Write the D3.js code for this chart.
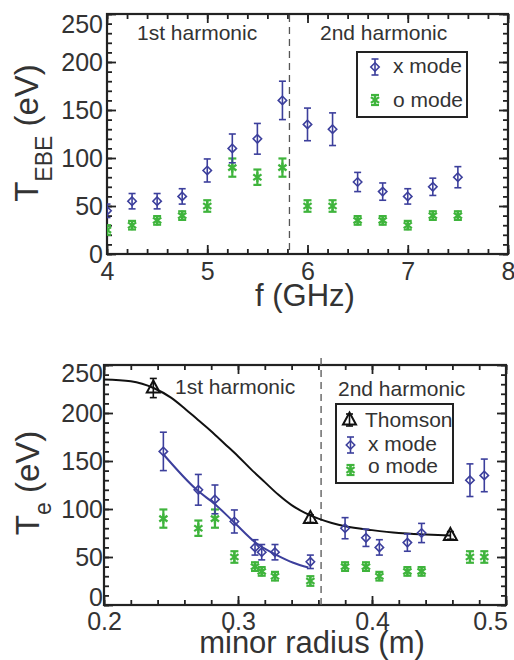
<!DOCTYPE html>
<html><head><meta charset="utf-8">
<script src="https://cdn.jsdelivr.net/npm/d3@7"></script>
<style>
body{margin:0;background:#fff;}
svg{display:block;}
text{font-family:"Liberation Sans",Arial,Helvetica,sans-serif;fill:#333;}
</style></head>
<body>
<svg id="c" width="514" height="660"></svg>
<script>
// ---- data ----
const freq   = [4.0, 4.25, 4.5, 4.75, 5.0, 5.25, 5.5, 5.75, 6.0, 6.25, 6.5, 6.75, 7.0, 7.25, 7.5];
const radius = [0.354, 0.3276, 0.3177, 0.3127, 0.2973, 0.2828, 0.2704, 0.2443, 0.4838, 0.4731, 0.437, 0.4264, 0.4055, 0.3955, 0.3799];
const xMode  = [45, 55, 55, 60, 87, 110, 120, 160, 135, 130, 75, 65, 60, 70, 80];
const xErr   = [7, 8, 8, 8, 12, 15, 16, 20, 17, 17, 10, 9, 8, 9, 11];
const oMode  = [25, 30, 35, 40, 50, 90, 80, 90, 50, 50, 35, 35, 30, 40, 40];
const oErr   = [5, 4.5, 4.5, 4.5, 6, 9.5, 8, 9.5, 6, 6, 4.5, 4.5, 4.5, 4.5, 4.5];

const thomR   = [0.2368, 0.354, 0.4585];
const thomT   = [226, 90, 72.5];
const thomErr = [10, 4, 4];

const thomFitR = [0.2, 0.22, 0.237, 0.25, 0.26, 0.27, 0.28, 0.29, 0.30, 0.31, 0.32, 0.33, 0.34, 0.35, 0.36, 0.37, 0.38, 0.40, 0.42, 0.44, 0.4585];
const thomFitT = [235, 233, 226, 216, 205, 193, 181, 168, 155, 141, 128, 115, 104, 96, 90, 85.5, 82, 78, 75, 73.5, 72.5];

const xFitR = [0.2443, 0.2692, 0.2828, 0.2965, 0.314, 0.3289, 0.3413, 0.3525];
const xFitT = [157, 120, 105, 87, 64, 52, 44, 39];

const fTicks = [4, 5, 6, 7, 8];
const fMinor = d3.range(4, 8.001, 0.2);
const rTicks = [0.2, 0.3, 0.4, 0.5];
const rMinor = d3.range(0.2, 0.5001, 0.02);
const tTicks = [0, 50, 100, 150, 200, 250];
const tMinor = d3.range(0, 250.1, 10);

const blue = "#3c3f9c", green = "#3fb43c", dark = "#222";

const svg = d3.select("#c");

function makePanel(o){
  const g = svg.append("g");
  const x = d3.scaleLinear().domain(o.xd).range(o.xr);
  const y = d3.scaleLinear().domain([0,250]).range(o.yr);
  const [x0,x1] = o.xr, [y0,y1] = [o.yr[1], o.yr[0]];
  const cid = "clip"+o.id;
  svg.append("clipPath").attr("id",cid).append("rect")
    .attr("x",x0).attr("y",y0).attr("width",x1-x0).attr("height",y1-y0);

  const styleAx = sel => { sel.select(".domain").remove(); sel.selectAll("line").attr("stroke",dark).attr("stroke-width",1.8); };
  const styleTxt = s=>s.selectAll("text").attr("font-size",25).attr("fill","#333").attr("font-family","Liberation Sans, Arial, sans-serif");
  g.append("g").attr("transform",`translate(0,${y1})`)
    .call(d3.axisBottom(x).tickValues(o.xt).tickSizeInner(-9).tickSizeOuter(0).tickPadding(o.xpad).tickFormat(o.xfmt))
    .call(styleAx).call(styleTxt);
  g.append("g").attr("transform",`translate(0,${y1})`)
    .call(d3.axisBottom(x).tickValues(o.xm).tickSizeInner(-5).tickSizeOuter(0).tickFormat("")).call(styleAx);
  g.append("g").attr("transform",`translate(0,${y0})`)
    .call(d3.axisTop(x).tickValues(o.xt).tickSizeInner(-9).tickSizeOuter(0).tickFormat("")).call(styleAx);
  g.append("g").attr("transform",`translate(0,${y0})`)
    .call(d3.axisTop(x).tickValues(o.xm).tickSizeInner(-5).tickSizeOuter(0).tickFormat("")).call(styleAx);
  g.append("g").attr("transform",`translate(${x0},0)`)
    .call(d3.axisLeft(y).tickValues(tTicks).tickSizeInner(-9).tickSizeOuter(0).tickPadding(o.ypad))
    .call(styleAx).call(styleTxt);
  g.append("g").attr("transform",`translate(${x0},0)`)
    .call(d3.axisLeft(y).tickValues(tMinor).tickSizeInner(-5).tickSizeOuter(0).tickFormat("")).call(styleAx);
  g.append("g").attr("transform",`translate(${x1},0)`)
    .call(d3.axisRight(y).tickValues(tTicks).tickSizeInner(-9).tickSizeOuter(0).tickFormat("")).call(styleAx);
  g.append("g").attr("transform",`translate(${x1},0)`)
    .call(d3.axisRight(y).tickValues(tMinor).tickSizeInner(-5).tickSizeOuter(0).tickFormat("")).call(styleAx);

  g.append("rect").attr("x",x0).attr("y",y0).attr("width",x1-x0).attr("height",y1-y0)
    .attr("fill","none").attr("stroke",dark).attr("stroke-width",2.2);

  g.append("line").attr("x1",x(o.divider)).attr("x2",x(o.divider))
    .attr("y1",o.divTop).attr("y2",y1)
    .attr("stroke","#555").attr("stroke-width",1.3).attr("stroke-dasharray","7,5");

  const plot = g.append("g").attr("clip-path",`url(#${cid})`);
  return {g, x, y, plot};
}

function errBar(sel, cx, cy, dy, color, cap, w){
  sel.append("line").attr("x1",cx).attr("x2",cx).attr("y1",cy-dy).attr("y2",cy+dy)
    .attr("stroke",color).attr("stroke-width",w);
  [cy-dy, cy+dy].forEach(yy=>sel.append("line").attr("x1",cx-cap).attr("x2",cx+cap).attr("y1",yy).attr("y2",yy)
    .attr("stroke",color).attr("stroke-width",w));
}
function diamond(sel, cx, cy){
  const r = 4.2;
  sel.append("path").attr("d",`M${cx},${cy-r}L${cx+r},${cy}L${cx},${cy+r}L${cx-r},${cy}Z`)
    .attr("fill","none").attr("stroke",blue).attr("stroke-width",1.6);
}
function asterisk(sel, cx, cy){
  const r = 5;
  [90, 35, -35].forEach(a=>{
    const t = a*Math.PI/180, dx = r*Math.cos(t), dy = r*Math.sin(t);
    sel.append("line").attr("x1",cx-dx).attr("x2",cx+dx).attr("y1",cy-dy).attr("y2",cy+dy)
      .attr("stroke",green).attr("stroke-width",2.3);
  });
}
function triangle(sel, cx, cy){
  sel.append("path").attr("d",`M${cx},${cy-7.5}L${cx+6.5},${cy+4.5}L${cx-6.5},${cy+4.5}Z`)
    .attr("fill","none").attr("stroke","#111").attr("stroke-width",2).attr("stroke-linejoin","miter");
}
function xPoint(sel, cx, cy, dy){ errBar(sel,cx,cy,dy,blue,3.5,1.6); diamond(sel,cx,cy); }
function oPoint(sel, cx, cy, dy){ errBar(sel,cx,cy,dy,green,4,2.2); asterisk(sel,cx,cy); }
function tPoint(sel, cx, cy, dy){ errBar(sel,cx,cy,dy,"#111",3.5,1.6); triangle(sel,cx,cy); }

// ---- top panel ----
const P1 = makePanel({id:1, xd:[4,8], xr:[107,508], yr:[254,14], xt:fTicks, xm:fMinor,
  xfmt:d3.format("d"), xpad:8, ypad:4, divider:5.82, divTop:15});
P1.g.selectAll("g.tick text").filter(d=>d===250).attr("dy","0.75em");
freq.forEach((f,i)=>{
  oPoint(P1.plot, P1.x(f), P1.y(oMode[i]), P1.y(0)-P1.y(oErr[i]));
  xPoint(P1.plot, P1.x(f), P1.y(xMode[i]), P1.y(0)-P1.y(xErr[i]));
});
svg.append("text").attr("x",137).attr("y",40).attr("font-size",21).attr("fill","#444").text("1st harmonic");
svg.append("text").attr("x",320).attr("y",40).attr("font-size",21).attr("fill","#444").text("2nd harmonic");
svg.append("rect").attr("x",357).attr("y",52).attr("width",110).attr("height",65)
  .attr("fill","#fff").attr("stroke",dark).attr("stroke-width",2);
xPoint(svg, 375, 67, 8);
oPoint(svg, 375, 100, 5);
svg.append("text").attr("x",393).attr("y",73).attr("font-size",21).text("x mode");
svg.append("text").attr("x",393).attr("y",107).attr("font-size",21).text("o mode");
svg.append("text").attr("x",305).attr("y",306).attr("font-size",31).attr("text-anchor","middle").text("f (GHz)");
const yt1 = svg.append("text").attr("transform","translate(38,133) rotate(-90)").attr("text-anchor","middle").attr("font-size",33);
yt1.append("tspan").text("T");
yt1.append("tspan").attr("font-size",23).attr("dy",14).text("EBE");
yt1.append("tspan").attr("dy",-14).text(" (eV)");

// ---- bottom panel ----
const P2 = makePanel({id:2, xd:[0.2,0.5], xr:[104,506], yr:[605,365], xt:rTicks, xm:rMinor,
  xfmt:d3.format(".1f"), xpad:7, ypad:1, divider:0.362, divTop:358});
P2.g.selectAll("g.tick text").filter(d=>d===250).attr("dy","0.65em");
P2.g.selectAll("g.tick text").filter(d=>d===0).attr("dy","0em");
P2.g.selectAll("g.tick text").filter(d=>d===0.5).attr("dx",-16);
const lineGen = d3.line().curve(d3.curveMonotoneX);
P2.plot.append("path").attr("d", lineGen(thomFitR.map((r,i)=>[P2.x(r),P2.y(thomFitT[i])])))
  .attr("fill","none").attr("stroke","#111").attr("stroke-width",2);
P2.plot.append("path").attr("d", lineGen(xFitR.map((r,i)=>[P2.x(r),P2.y(xFitT[i])])))
  .attr("fill","none").attr("stroke",blue).attr("stroke-width",2);
radius.forEach((r,i)=>{
  oPoint(P2.plot, P2.x(r), P2.y(oMode[i]), P2.y(0)-P2.y(oErr[i]));
  xPoint(P2.plot, P2.x(r), P2.y(xMode[i]), P2.y(0)-P2.y(xErr[i]));
});
thomR.forEach((r,i)=> tPoint(P2.plot, P2.x(r), P2.y(thomT[i]), P2.y(0)-P2.y(thomErr[i])));
svg.append("text").attr("x",175).attr("y",394).attr("font-size",21).attr("fill","#444").text("1st harmonic");
svg.append("text").attr("x",338).attr("y",396).attr("font-size",21).attr("fill","#444").text("2nd harmonic");
svg.append("rect").attr("x",336).attr("y",404).attr("width",117).attr("height",79)
  .attr("fill","#fff").attr("stroke",dark).attr("stroke-width",2);
tPoint(svg, 349.5, 420, 6);
xPoint(svg, 350.5, 445, 8);
oPoint(svg, 350.5, 470, 5);
svg.append("text").attr("x",365).attr("y",427).attr("font-size",21).text("Thomson");
svg.append("text").attr("x",368).attr("y",451).attr("font-size",21).text("x mode");
svg.append("text").attr("x",368).attr("y",473).attr("font-size",21).text("o mode");
svg.append("text").attr("x",312).attr("y",653).attr("font-size",31).attr("text-anchor","middle").text("minor radius (m)");
const yt2 = svg.append("text").attr("transform","translate(39,483) rotate(-90)").attr("text-anchor","middle").attr("font-size",33);
yt2.append("tspan").text("T");
yt2.append("tspan").attr("font-size",23).attr("dy",12).text("e");
yt2.append("tspan").attr("dy",-12).text(" (eV)");
</script>
</body></html>
